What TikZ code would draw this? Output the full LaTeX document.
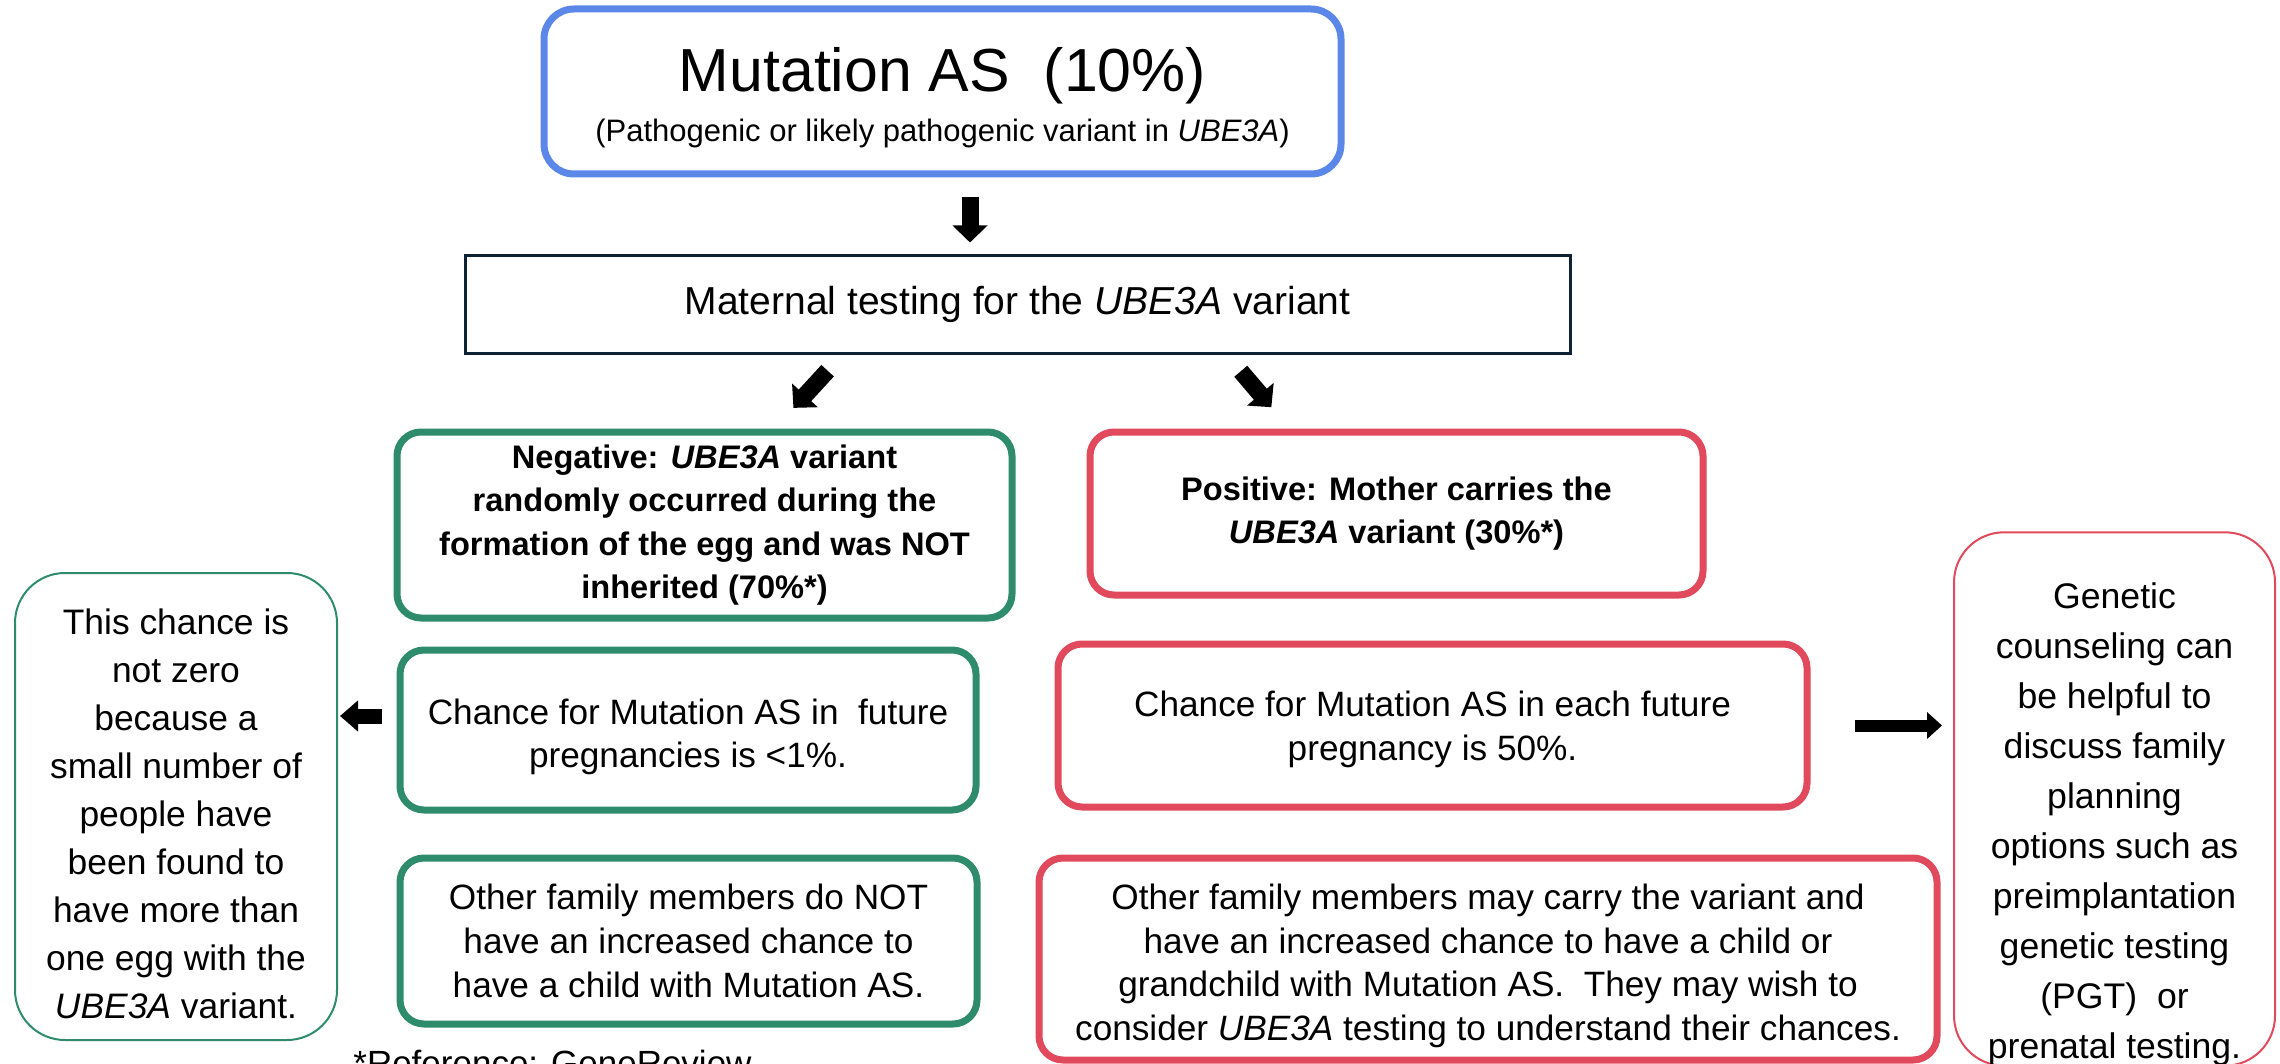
\documentclass[tikz,border=0pt]{standalone}
\usepackage{fontspec}
\setmainfont{Liberation Sans}
\usetikzlibrary{arrows.meta}

\definecolor{asblue}{RGB}{91,135,233}
\definecolor{asgreen}{RGB}{46,139,107}
\definecolor{asred}{RGB}{224,74,92}
\definecolor{asnavy}{RGB}{14,34,51}

\begin{document}
\begin{tikzpicture}[x=0.5pt,y=-0.5pt,
    box/.style={draw,rounded corners=12pt,line width=3.5pt,align=center,inner sep=0pt,
                font=\fontsize{17.6}{21.8}\selectfont},
    greenbox/.style={box,draw=asgreen},
    redbox/.style={box,draw=asred},
    note/.style={draw,rounded corners=25pt,line width=1pt,align=center,inner sep=0pt,
                 font=\fontsize{17.7}{24}\selectfont},
    bigarrow/.style={draw=black,line width=8.5pt,-{Triangle[width=17pt,length=8.5pt]}}]
  \useasboundingbox (0,0) rectangle (2280,1064);

  \node[box,draw=asblue,rounded corners=15pt,minimum width=398.5pt,minimum height=82.5pt,
        font=\fontsize{15.5}{25}\selectfont] (top) at (942.5,91.5)
        {{\fontsize{30.4}{36}\selectfont\rule{0pt}{28pt}Mutation AS\ \ (10\%)}\\
         (Pathogenic or likely pathogenic variant in \textit{UBE3A})};
  \node[draw=asnavy,line width=1.5pt,minimum width=552.5pt,minimum height=48.5pt,
        font=\fontsize{19.5}{24}\selectfont] (maternal) at (1017.5,304.5)
        {Maternal testing for the \textit{UBE3A} variant};

  \node[greenbox,minimum width=307.5pt,minimum height=93pt,
        font=\bfseries\fontsize{16.3}{21.8}\selectfont] (neg) at (704.5,525)
        {Negative: \textit{UBE3A} variant\\randomly occurred during the\\
         formation of the egg and was NOT\\inherited (70\%*)};
  \node[redbox,minimum width=306.5pt,minimum height=81.5pt,
        font=\bfseries\fontsize{16.3}{21.8}\selectfont] (pos) at (1396.5,513.5)
        {Positive: Mother carries the\\\textit{UBE3A} variant (30\%*)};

  \node[greenbox,minimum width=288pt,minimum height=80pt] (gchance) at (688,730)
        {\rule{0pt}{19.8pt}Chance for Mutation AS in\ \ future\\pregnancies is <1\%.};
  \node[greenbox,minimum width=288.5pt,minimum height=83pt] (gother) at (688.5,941)
        {Other family members do NOT\\have an increased chance to\\have a child with Mutation AS.};
  \node[redbox,minimum width=374.5pt,minimum height=81.5pt] (rchance) at (1432.5,725.5)
        {\rule{0pt}{16.8pt}Chance for Mutation AS in each future\\pregnancy is 50\%.};
  \node[redbox,minimum width=449pt,minimum height=101pt] (rother) at (1488,959)
        {\rule{0pt}{19.8pt}Other family members may carry the variant and\\have an increased chance to have a child or\\
         grandchild with Mutation AS.\ \ They may wish to\\consider \textit{UBE3A} testing to understand their chances.};

  \node[note,draw=asgreen,minimum width=161pt,minimum height=233.5pt] (lnote) at (176,806.5)
        {\rule{0pt}{20pt}This chance is\\not zero\\because a\\small number of\\people have\\been found to\\
         have more than\\one egg with the\\\textit{UBE3A} variant.};
  \node[note,draw=asred,minimum width=160.5pt,minimum height=257pt,
        font=\fontsize{17.8}{25}\selectfont] (rnote) at (2114.5,799)
        {\rule{0pt}{38pt}Genetic\\counseling can\\be helpful to\\discuss family\\planning\\options such as\\
         preimplantation\\genetic testing\\(PGT)\ \ or\\prenatal testing.};

  \node[anchor=base west,inner sep=0pt,font=\fontsize{17.5}{21}\selectfont] (ref) at (353,1075)
        {*Reference: GeneReview};

  \draw[bigarrow,shorten <=10pt,shorten >=6pt] ([xshift=13.75pt]top.south)
        -- ([xshift=13.75pt]top.south |- maternal.north);
  \draw[bigarrow,shorten <=11pt,shorten >=14pt] ([xshift=-87.5pt]maternal.south)
        -- ([xshift=35pt]neg.north);
  \draw[bigarrow,shorten <=11pt,shorten >=14pt] ([xshift=104.5pt]maternal.south)
        -- ([xshift=-53.5pt]pos.north);
  \draw[bigarrow,line width=7.5pt,-{Triangle[width=15pt,length=9pt]},shorten <=7.5pt,shorten >=1pt]
        ([yshift=7pt]gchance.west) -- ([yshift=7pt]gchance.west -| lnote.east);
  \draw[bigarrow,line width=6pt,-{Triangle[width=13pt,length=7.5pt]},shorten <=22pt,shorten >=5.5pt]
        (rchance.east) -- (rchance.east -| rnote.west);
\end{tikzpicture}
\end{document}
